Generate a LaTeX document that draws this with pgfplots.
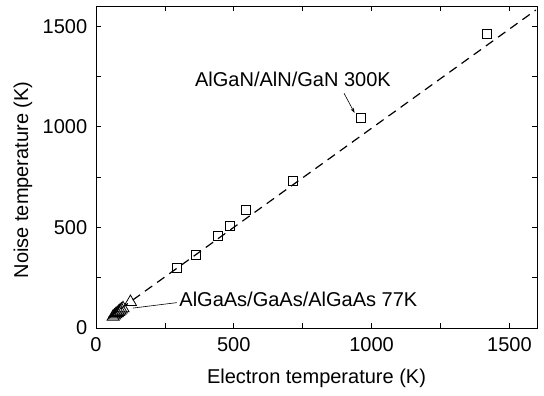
\documentclass[border=0pt]{standalone}
\usepackage{fontspec}
\setmainfont{Liberation Sans}
\usepackage{pgfplots}
\pgfplotsset{compat=1.18}
\usetikzlibrary{arrows.meta}
\pgfplotstableread{
x y
293 297
362 361
443 456
486 507
544 588
715 732
960 1042
1417 1460
}\gansq
\pgfplotstableread{
x y
62 56
67 62
72 68
77 74
82 80
87 86
92 92
98 98
125 129
}\gaastri
\begin{document}
\fontsize{20}{24}\selectfont
\begin{tikzpicture}
\begin{axis}[
  width=441pt, height=322pt, scale only axis,
  xmin=0, xmax=1600, ymin=0, ymax=1600,
  xtick={0,500,1000,1500}, ytick={0,500,1000,1500},
  minor xtick={250,750,1250}, minor ytick={250,750,1250},
  tick align=inside, major tick length=5pt, minor tick length=5pt,
  tick style={black, line width=0.8pt},
  axis line style={line width=0.9pt},
  /pgf/number format/assume math mode=true,
  /pgf/number format/1000 sep={},
  ticklabel style={font=\fontsize{20}{24}\selectfont},
  xticklabel style={yshift=-3pt},
  yticklabel style={xshift=-2pt},
  xlabel={Electron temperature (K)},
  ylabel={Noise temperature (K)},
  xlabel style={at={(axis description cs:0.5,-0.155)}, anchor=center},
  ylabel style={at={(axis description cs:-0.1655,0.46)}, anchor=center},
  clip=false,
]
\addplot[black, line width=1.2pt, dash pattern=on 9pt off 6pt] coordinates {(45,52) (1596,1580)};
\addplot[only marks, mark=square, mark size=4.5pt, mark options={line width=0.8pt, fill=white, draw=black}] table {\gansq};
\addplot[only marks, mark=triangle, mark size=7pt, mark options={line width=0.8pt, fill=white, draw=black}] table {\gaastri};
\draw[line width=0.6pt, -{Stealth[length=5pt,width=3.5pt]}] (axis cs:900,1166) -- (axis cs:938,1069);
\draw[line width=0.6pt] (axis cs:293,126) -- (axis cs:134,99);
\node[anchor=base west, inner sep=0pt] at (axis cs:359,1199) {AlGaN/AlN/GaN 300K};
\node[anchor=base west, inner sep=0pt] at (axis cs:302,106) {AlGaAs/GaAs/AlGaAs 77K};
\coordinate (bl) at (rel axis cs:0,0);
\coordinate (tr) at (rel axis cs:1,1);
\end{axis}
\pgfresetboundingbox
\path ([shift={(-96pt,-68pt)}]bl) rectangle ([shift={(7pt,6pt)}]tr);
\end{tikzpicture}
\end{document}
